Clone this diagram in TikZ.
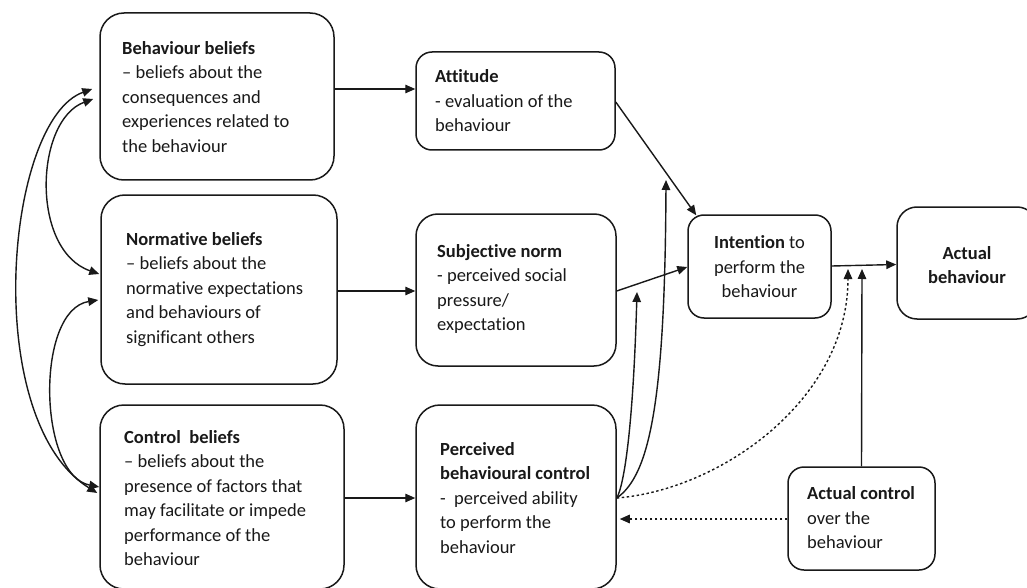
\documentclass[tikz,border=0pt]{standalone}
\usepackage{fontspec}
\setmainfont{Carlito}[RawFeature={-liga;-clig}]
\usetikzlibrary{arrows.meta}
\begin{document}
\begin{tikzpicture}[x=1pt,y=-1pt,
  box/.style={draw=black!90, line width=1.5pt, rounded corners=#1, inner sep=0pt},
  box/.default=16pt,
  txt/.style={inner sep=0pt, align=left, anchor=west, text=black!90, font=\fontsize{18.5}{24.5}\selectfont},
  ctxt/.style={inner sep=0pt, align=center, text=black!90, font=\fontsize{18.5}{24.5}\selectfont},
  arr/.style={line width=1.4pt, draw=black!90, -{Triangle[length=10pt,width=8.5pt]}},
  darr/.style={line width=1.4pt, draw=black!90, {Triangle[length=10pt,width=8.5pt]}-{Triangle[length=10pt,width=8.5pt]}},
  dotline/.style={dash pattern=on 2.5pt off 2.5pt}]
\fill[white] (0,0) rectangle (1027,588);
\useasboundingbox (0,0) rectangle (1027,588);

% boxes
\node[box=24pt, minimum width=234pt, minimum height=167pt] (BB) at (217,96.5) {};
\node[box=24pt, minimum width=236pt, minimum height=189pt] (NB) at (219,289.5) {};
\node[box=24pt, minimum width=244pt, minimum height=184pt] (CB) at (222,497) {};
\node[box=16pt, minimum width=199pt, minimum height=98pt] (Att) at (515.5,101) {};
\node[box=22pt, minimum width=200pt, minimum height=152pt] (SN) at (516,290) {};
\node[box=24pt, minimum width=200pt, minimum height=184pt] (PBC) at (516,497) {};
\node[box=16pt, minimum width=143pt, minimum height=103pt] (Int) at (759.5,266.5) {};
\node[box=20pt, minimum width=140pt, minimum height=112pt] (AB) at (967,263) {};
\node[box=16pt, minimum width=147pt, minimum height=103pt] (AC) at (861.5,518.5) {};

% texts
\node[txt] (BBt) at (122,97) {\textbf{Behaviour beliefs}\\– beliefs about the\\consequences and\\experiences related to\\the behaviour};
\node[txt] (NBt) at (126,289.5) {\textbf{Normative beliefs}\\– beliefs about the\\normative expectations\\and behaviours of\\significant others};
\node[txt] (CBt) at (124,498) {\textbf{Control\ \ beliefs}\\– beliefs about the\\presence of factors that\\may facilitate or impede\\performance of the\\behaviour};
\node[txt] (Attt) at (435,101) {\textbf{Attitude}\\- evaluation of the\\behaviour};
\node[txt] (SNt) at (437,289) {\textbf{Subjective norm}\\- perceived social\\pressure/\\expectation};
\node[txt] (PBCt) at (440,498) {\textbf{Perceived}\\\textbf{behavioural control}\\-\ \ perceived ability\\to perform the\\behaviour};
\node[ctxt] (Intt) at (759.5,267) {\textbf{Intention} to\\perform the\\behaviour};
\node[ctxt] (ABt) at (967,265) {\textbf{Actual}\\\textbf{behaviour}};
\node[txt] (ACt) at (807,518) {\textbf{Actual control}\\over the\\behaviour};

% levels
\coordinate (lA) at (0,89);
\coordinate (lN) at (0,291);
\coordinate (lC) at (0,498);
\coordinate (lAt) at (0,102);
\coordinate (lI) at (0,267);
\coordinate (lIA) at (0,266);
\coordinate (lB) at (0,264.5);
\coordinate (lD) at (0,519);
\coordinate (t1) at (637,292);
\coordinate (t2) at (666,180);
\coordinate (t3) at (848,269);
\coordinate (t4) at (862,269);

% connectors
\draw[arr] (BB.east |- lA) -- (Att.west |- lA);
\draw[arr] (NB.east |- lN) -- (SN.west |- lN);
\draw[arr] (CB.east |- lC) -- (PBC.west |- lC);
\draw[arr] (Att.east |- lAt) -- ([shift={(9pt,-1pt)}]Int.north west);
\draw[arr] (SN.east |- lN) -- (Int.west |- lI);
\draw[arr] (PBC.east |- lC) .. controls (624,485) and (633,430) .. (t1);
\draw[arr] (PBC.east |- lC) .. controls (650,475) and (665,400) .. (t2);
\draw[arr, dotline] (PBC.east |- lC) .. controls (720,490) and (848,400) .. (t3);
\draw[arr] (Int.east |- lIA) -- (AB.west |- lB);
\draw[arr] (AC.north) -- (t4);
\draw[arr, dotline, shorten >=3pt] (AC.west |- lD) -- (PBC.east |- lD);

% left feedback curves
\draw[darr] ([shift={(-7pt,7.5pt)}]BB.west) .. controls (5,120) and (-20,420) .. ([shift={(-2pt,4pt)}]CB.west);
\draw[darr] ([shift={(-6pt,-2.5pt)}]BB.west) .. controls (35,120) and (30,250) .. ([shift={(-1pt,15.5pt)}]NB.west);
\draw[darr] ([shift={(-2pt,-10.5pt)}]NB.west) .. controls (35,310) and (38,475) .. ([shift={(0pt,10pt)}]CB.west);
\end{tikzpicture}
\end{document}
